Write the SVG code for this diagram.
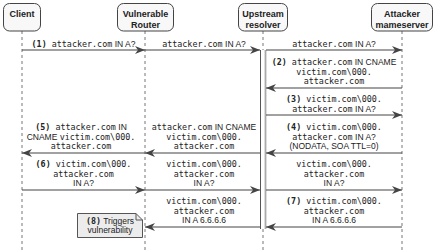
<svg xmlns="http://www.w3.org/2000/svg" width="436" height="250" viewBox="0 0 436 250">
<defs>
<style>
.box{fill:#f8f8f8;stroke:#444;stroke-width:1}
.hd{font-family:"Liberation Sans",Arial,sans-serif;font-size:9px;font-weight:bold;fill:#222;text-anchor:middle}
.life{stroke:#777;stroke-width:1;stroke-dasharray:3,3;fill:none}
.msg{stroke:#444;stroke-width:1.2;fill:none}
.lb{font-family:"DejaVu Sans Mono","Liberation Mono",monospace;font-size:8.4px;fill:#222;text-anchor:middle}
.sn{font-family:"Liberation Sans",Arial,sans-serif;font-size:8.5px}
.b{font-weight:bold}
.note{fill:#ececec;stroke:#555;stroke-width:1}
</style>
<marker id="ah" viewBox="0 0 10 8" refX="10" refY="4" markerWidth="10" markerHeight="8" markerUnits="userSpaceOnUse" orient="auto">
<path d="M0,0 L10,4 L0,8 L3,4 Z" fill="#444"/>
</marker>
</defs>
<g id="lifelines">
<line class="life" x1="22" y1="31" x2="22" y2="250"/>
<line class="life" x1="145" y1="31" x2="145" y2="250"/>
<line class="life" x1="263" y1="31" x2="263" y2="250"/>
<line class="life" x1="402" y1="31" x2="402" y2="250"/>
</g>
<g id="client"><rect class="box" x="3.5" y="3.5" width="37" height="27.5" rx="6"/><text class="hd" x="22" y="17">Client</text></g>
<g id="router"><rect class="box" x="117.5" y="3.5" width="56" height="27.5" rx="6"/><text class="hd" x="145.5" y="17">Vulnerable</text><text class="hd" x="145.5" y="27.5">Router</text></g>
<g id="resolver"><rect class="box" x="238.5" y="3.5" width="49" height="27.5" rx="6"/><text class="hd" x="263" y="17">Upstream</text><text class="hd" x="263" y="27.5">resolver</text></g>
<g id="nameserver"><rect class="box" x="371.5" y="3.5" width="61" height="27.5" rx="6"/><text class="hd" x="402" y="17">Attacker</text><text class="hd" x="402" y="27.5">mameserver</text></g>
<g id="activation">
<rect x="260.5" y="50" width="5.5" height="179" fill="#fff" stroke="none"/>
<line x1="260.5" y1="50" x2="260.5" y2="229" stroke="#555" stroke-width="1"/>
<line x1="265.5" y1="50" x2="265.5" y2="229" stroke="#aaa" stroke-width="1.8"/>
</g>
<g id="connectors">
<line class="msg" x1="22" y1="50" x2="145" y2="50" marker-end="url(#ah)"/>
<line class="msg" x1="145" y1="50" x2="260" y2="50" marker-end="url(#ah)"/>
<line class="msg" x1="266" y1="50" x2="402" y2="50" marker-end="url(#ah)"/>
<line class="msg" x1="402" y1="88" x2="266" y2="88" marker-end="url(#ah)"/>
<line class="msg" x1="266" y1="115" x2="402" y2="115" marker-end="url(#ah)"/>
<line class="msg" x1="402" y1="153" x2="266" y2="153" marker-end="url(#ah)"/>
<line class="msg" x1="260" y1="153" x2="145" y2="153" marker-end="url(#ah)"/>
<line class="msg" x1="145" y1="153" x2="22" y2="153" marker-end="url(#ah)"/>
<line class="msg" x1="22" y1="190" x2="145" y2="190" marker-end="url(#ah)"/>
<line class="msg" x1="145" y1="190" x2="260" y2="190" marker-end="url(#ah)"/>
<line class="msg" x1="266" y1="190" x2="402" y2="190" marker-end="url(#ah)"/>
<line class="msg" x1="402" y1="227" x2="266" y2="227" marker-end="url(#ah)"/>
<line class="msg" x1="260" y1="227" x2="145" y2="227" marker-end="url(#ah)"/>
</g>
<g id="labels">
<text class="lb" x="83.5" y="46.5"><tspan class="b">(1)</tspan> attacker.com<tspan class="sn"> IN A?</tspan></text>
<text class="lb" x="204" y="46.5">attacker.com<tspan class="sn"> IN A?</tspan></text>
<text class="lb" x="334" y="46.5">attacker.com<tspan class="sn"> IN A?</tspan></text>

<text class="lb" x="334" y="65"><tspan class="b">(2)</tspan> attacker.com<tspan class="sn"> IN CNAME</tspan></text>
<text class="lb" x="334" y="74.5">victim.com\000.</text>
<text class="lb" x="334" y="84">attacker.com</text>

<text class="lb" x="334" y="102"><tspan class="b">(3)</tspan> victim.com\000.</text>
<text class="lb" x="334" y="111.5">attacker.com<tspan class="sn"> IN A?</tspan></text>

<text class="lb" x="334" y="130"><tspan class="b">(4)</tspan> victim.com\000.</text>
<text class="lb" x="334" y="139.5">attacker.com<tspan class="sn"> IN A?</tspan></text>
<text class="lb sn" x="334" y="149">(NODATA, SOA TTL=0)</text>

<text class="lb" x="204" y="130">attacker.com<tspan class="sn"> IN CNAME</tspan></text>
<text class="lb" x="204" y="139.5">victim.com\000.</text>
<text class="lb" x="204" y="149">attacker.com</text>

<text class="lb" x="81" y="130"><tspan class="b">(5)</tspan> attacker.com<tspan class="sn"> IN</tspan></text>
<text class="lb" x="81" y="139.5"><tspan class="sn">CNAME </tspan>victim.com\000.</text>
<text class="lb" x="81" y="149">attacker.com</text>

<text class="lb" x="83.5" y="167"><tspan class="b">(6)</tspan> victim.com\000.</text>
<text class="lb" x="83.5" y="176.5">attacker.com</text>
<text class="lb sn" x="83.5" y="186">IN A?</text>

<text class="lb" x="204" y="167">victim.com\000.</text>
<text class="lb" x="204" y="176.5">attacker.com</text>
<text class="lb sn" x="204" y="186">IN A?</text>

<text class="lb" x="334" y="167">victim.com\000.</text>
<text class="lb" x="334" y="176.5">attacker.com</text>
<text class="lb sn" x="334" y="186">IN A?</text>

<text class="lb" x="334" y="204"><tspan class="b">(7)</tspan> victim.com\000.</text>
<text class="lb" x="334" y="213.5">attacker.com</text>
<text class="lb sn" x="334" y="223">IN A 6.6.6.6</text>

<text class="lb" x="204" y="204">victim.com\000.</text>
<text class="lb" x="204" y="213.5">attacker.com</text>
<text class="lb sn" x="204" y="223">IN A 6.6.6.6</text>
</g>
<g id="note">
<path class="note" d="M77.5,213.5 H136 L142.5,220 V237.5 H77.5 Z"/>
<path d="M136,213.5 V220 H142.5" fill="none" stroke="#555" stroke-width="1"/>
<text class="lb" x="110" y="223.5"><tspan class="b">(8)</tspan><tspan class="sn"> Triggers</tspan></text>
<text class="lb sn" x="110" y="233">vulnerability</text>
</g>
</svg>
